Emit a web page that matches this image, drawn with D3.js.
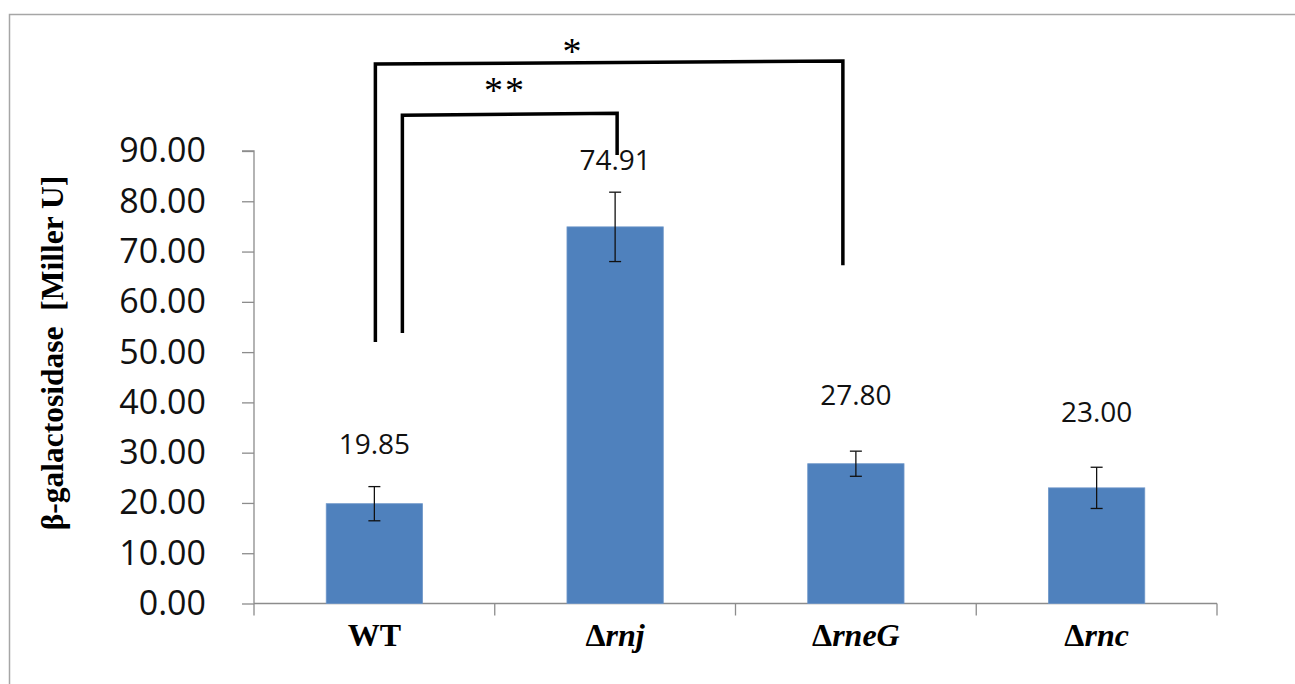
<!DOCTYPE html>
<html lang="en">
  <head>
    <meta charset="utf-8">
    <title>beta-galactosidase</title>
    <script src="https://d3js.org/d3.v7.min.js"></script>
    <style>
      body { margin: 0; background: #fff; }
    </style>
  </head>
  <body>

    <script>

       // strains, means and error bar half-widths
       var strains = ["WT", "rnj", "rneG", "rnc"];
       var deltas = [false, true, true, true];
       var means = [19.85, 74.91, 27.80, 23.00];
       var errors = [3.4, 6.9, 2.5, 4.1];
       var yTicks = [0, 10, 20, 30, 40, 50, 60, 70, 80, 90];

       // where the value labels sit, in axis units (they were moved by hand)
       var labelAt = [31.7, 88.2, 41.5, 38.1];

       // significance brackets
       var brackets = [
         { from: "WT", to: "rneG", dxFrom: 1, dxTo: -13, yFrom: 52.0, yTo: 67.3, topFrom: 107.3, topTo: 107.9, mark: "*", markX: 573, markY: 111.9 },
         { from: "WT", to: "rnj", dxFrom: 28, dxTo: 2, yFrom: 53.8, yTo: 89.2, topFrom: 97.1, topTo: 97.5, mark: "**", markX: 505, markY: 104.1 }
       ];

       var W = 1295, H = 684;
       var svg = d3.select("body").append("svg")
                   .attr("width", W)
                   .attr("height", H);

       // chart area frame
       svg.append("rect")
          .attr("x", 9.5).attr("y", 14.5)
          .attr("width", W + 20).attr("height", H + 20)
          .attr("fill", "none")
          .attr("stroke", "#a6a6a6")
          .attr("stroke-width", 1.5);

       var x = d3.scaleBand().domain(strains).range([254, 1217]).paddingInner(0).paddingOuter(0);
       var y = d3.scaleLinear().domain([0, 90]).range([603.5, 151]);
       var bw = x.bandwidth() / 2.5;
       var cx = function(s) { return x(s) + x.bandwidth() / 2; };

       // y axis
       var yAxis = d3.axisLeft(y).tickValues(yTicks).tickSize(12).tickPadding(36)
                     .tickFormat(d3.format(".2f"));
       var gy = svg.append("g").attr("transform", "translate(254,0)").call(yAxis);
       gy.select(".domain").attr("stroke", "#8c8c8c").attr("stroke-width", 1.3)
         .attr("d", "M-12," + y(90) + "H0V" + y(0));
       gy.selectAll(".tick line").attr("stroke", "#8c8c8c").attr("stroke-width", 1.3);
       gy.selectAll(".tick text")
         .attr("font-family", "'Open Sans', sans-serif")
         .attr("font-size", 34)
         .attr("fill", "#111");

       // x axis
       var xAxis = d3.axisBottom(x).tickSize(0).tickFormat("");
       var gx = svg.append("g").attr("transform", "translate(0," + y(0) + ")").call(xAxis);
       gx.select(".domain").attr("stroke", "#8c8c8c").attr("stroke-width", 1.3)
         .attr("d", "M254,0H1217");
       var bounds = strains.map(function(s) { return x(s); }).concat([x.range()[1]]);
       gx.selectAll("line.sep")
         .data(bounds)
         .enter().append("line")
         .attr("class", "sep")
         .attr("x1", function(d) { return d; })
         .attr("x2", function(d) { return d; })
         .attr("y1", 0).attr("y2", 12)
         .attr("stroke", "#8c8c8c").attr("stroke-width", 1.3);

       var xl = svg.selectAll("text.xl")
         .data(strains)
         .enter().append("text")
         .attr("class", "xl")
         .attr("x", function(d) { return cx(d); })
         .attr("y", 646)
         .attr("text-anchor", "middle")
         .attr("font-family", "'Liberation Serif', 'Times New Roman', serif")
         .attr("font-weight", "bold")
         .attr("font-size", 32)
         .attr("fill", "#000");
       xl.each(function(d, i) {
         var t = d3.select(this);
         if (deltas[i]) {
           t.append("tspan").text("\u0394");
           t.append("tspan").attr("font-style", "italic").text(d);
         } else {
           t.text(d);
         }
       });

       // bars
       svg.selectAll("rect.bar")
          .data(means)
          .enter().append("rect")
          .attr("class", "bar")
          .attr("x", function(d, i) { return cx(strains[i]) - bw / 2; })
          .attr("y", function(d) { return y(d); })
          .attr("width", bw)
          .attr("height", function(d) { return y(0) - y(d); })
          .attr("fill", "#4f81bd")
          .attr("stroke", "#6f97c9")
          .attr("stroke-width", 0.8);

       // error bars
       var eb = svg.selectAll("g.err")
          .data(means)
          .enter().append("g")
          .attr("class", "err")
          .attr("stroke", "#111")
          .attr("stroke-width", 1.3);
       eb.append("line")
         .attr("x1", function(d, i) { return cx(strains[i]); })
         .attr("x2", function(d, i) { return cx(strains[i]); })
         .attr("y1", function(d, i) { return y(d + errors[i]); })
         .attr("y2", function(d, i) { return y(d - errors[i]); });
       eb.append("line")
         .attr("x1", function(d, i) { return cx(strains[i]) - 6; })
         .attr("x2", function(d, i) { return cx(strains[i]) + 6; })
         .attr("y1", function(d, i) { return y(d + errors[i]); })
         .attr("y2", function(d, i) { return y(d + errors[i]); });
       eb.append("line")
         .attr("x1", function(d, i) { return cx(strains[i]) - 6; })
         .attr("x2", function(d, i) { return cx(strains[i]) + 6; })
         .attr("y1", function(d, i) { return y(d - errors[i]); })
         .attr("y2", function(d, i) { return y(d - errors[i]); });

       // brackets
       brackets.forEach(function(b) {
         var x1 = cx(b.from) + b.dxFrom, x2 = cx(b.to) + b.dxTo;
         svg.append("path")
            .attr("d", "M" + x1 + "," + y(b.yFrom) + "L" + x1 + "," + y(b.topFrom) +
                       "L" + x2 + "," + y(b.topTo) + "L" + x2 + "," + y(b.yTo))
            .attr("fill", "none")
            .attr("stroke", "#000")
            .attr("stroke-width", 3.5)
            .attr("stroke-linejoin", "miter");
         svg.append("text")
            .attr("x", b.markX)
            .attr("y", y(b.markY))
            .attr("dy", "0.6em")
            .attr("text-anchor", "middle")
            .attr("font-family", "'Liberation Serif', 'Times New Roman', serif")
            .attr("font-size", 38)
            .attr("letter-spacing", 2)
            .text(b.mark);
       });

       // value labels
       svg.selectAll("text.val")
          .data(means)
          .enter().append("text")
          .attr("class", "val")
          .attr("x", function(d, i) { return cx(strains[i]); })
          .attr("y", function(d, i) { return y(labelAt[i]); })
          .attr("dy", "0.36em")
          .attr("text-anchor", "middle")
          .attr("font-family", "'Open Sans', sans-serif")
          .attr("font-size", 28)
          .attr("fill", "#111")
          .text(function(d) { return d.toFixed(2); });

       // y title
       svg.append("text")
          .attr("transform", "translate(52,353) rotate(-90)")
          .attr("dy", "0.35em")
          .attr("text-anchor", "middle")
          .attr("font-family", "'Liberation Serif', 'Times New Roman', serif")
          .attr("font-weight", "bold")
          .attr("font-size", 31.5)
          .attr("xml:space", "preserve")
          .text("\u03b2-galactosidase  [Miller U]");

    </script>

  </body>
</html>
